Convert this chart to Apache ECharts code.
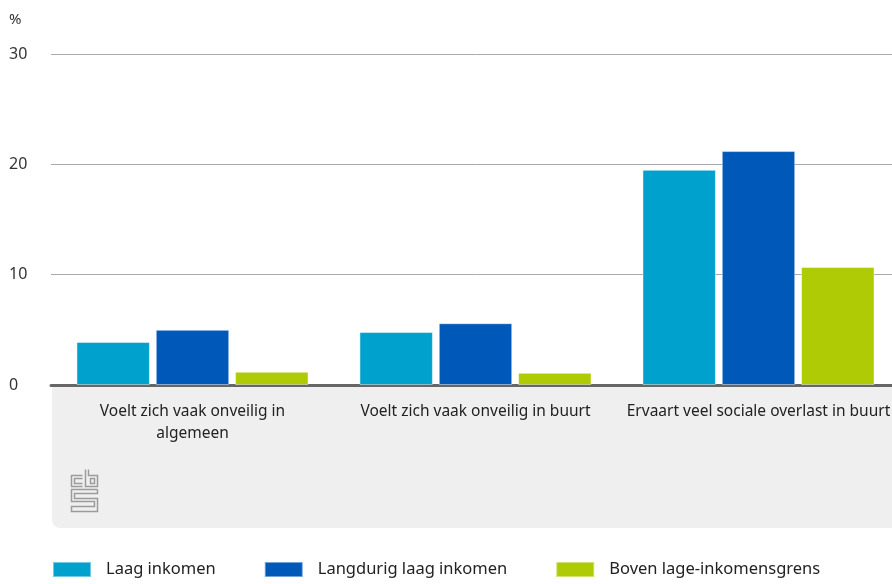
<!DOCTYPE html>
<html>
<head>
<meta charset="utf-8">
<script src="https://cdn.jsdelivr.net/npm/echarts@6/dist/echarts.min.js"></script>
<style>
  html, body { margin: 0; padding: 0; background: #fff; overflow: hidden; }
  /* iets breder dan het venster: de rechterkant van de plot valt weg, zoals in het origineel */
  #chart { width: 900px; height: 584px; }
</style>
</head>
<body>
<div id="chart"></div>
<script>
// categorieen en waarden (%)
var categories = ['Voelt zich vaak onveilig in\nalgemeen', 'Voelt zich vaak onveilig in buurt', 'Ervaart veel sociale overlast in buurt']
var laagInkomen = [3.9, 4.8, 19.5]
var langdurigLaag = [5.0, 5.6, 21.2]
var bovenGrens = [1.2, 1.1, 10.7]
var seriesNames = ['Laag inkomen', 'Langdurig laag inkomen', 'Boven lage-inkomensgrens']
var colors = ['#00a1cd', '#0058b8', '#afcb05']

var font = '"Noto Sans", "Open Sans", sans-serif'
var chart = echarts.init(document.getElementById('chart'))

function bar (name, data, color) {
  return {
    name: name,
    type: 'bar',
    data: data,
    barGap: '8%',
    barCategoryGap: '18%',
    itemStyle: {
      color: color,
      borderColor: 'rgba(255,255,255,0.45)',
      borderWidth: 1
    }
  }
}

// cbs logo, ruwe benadering
var logoStyle = { stroke: '#9b9b9b', lineWidth: 1.5, fill: null }
var logo = {
  type: 'group',
  left: 69,
  top: 467,
  children: [
    { type: 'polyline', shape: { points: [[12, 6], [1, 6], [1, 17], [12, 17]] }, style: logoStyle },
    { type: 'polyline', shape: { points: [[12, 9], [4, 9], [4, 14], [12, 14]] }, style: logoStyle },
    { type: 'polyline', shape: { points: [[15, 0], [15, 17], [27, 17], [27, 6], [18, 6], [18, 0]] }, style: logoStyle },
    { type: 'rect', shape: { x: 20, y: 9, width: 4, height: 5 }, style: logoStyle },
    { type: 'polyline', shape: { points: [[27, 20], [1, 20], [1, 32], [24, 32], [24, 37], [1, 37], [1, 42], [27, 42], [27, 29], [4, 29], [4, 24], [27, 24], [27, 20]] }, style: logoStyle }
  ]
}

var option = {
  animation: false,
  textStyle: { fontFamily: font },
  title: {
    text: '%',
    left: 9,
    top: 12,
    padding: 0,
    textStyle: { fontSize: 15, fontWeight: 'normal', color: '#333', fontFamily: font }
  },
  legend: {
    data: seriesNames,
    bottom: 1,
    left: 47,
    icon: 'rect',
    itemWidth: 38,
    itemHeight: 15,
    itemGap: 48,
    textStyle: { fontSize: 16.5, color: '#222', fontFamily: font, padding: [0, 0, 0, 10] }
  },
  graphic: [
    {
      type: 'rect',
      z: -10,
      left: 52,
      top: 386,
      shape: { width: 860, height: 142, r: [0, 0, 0, 8] },
      style: { fill: '#efefef' }
    },
    logo
  ],
  grid: {
    left: 51,
    right: 0,
    top: 54,
    bottom: 199
  },
  xAxis: {
    type: 'category',
    data: categories,
    axisLine: { lineStyle: { color: '#666', width: 3 } },
    axisTick: { show: false },
    axisLabel: {
      interval: 0,
      margin: 16,
      fontSize: 15.5,
      lineHeight: 22,
      color: '#222',
      fontFamily: font
    }
  },
  yAxis: {
    type: 'value',
    min: 0,
    max: 30,
    interval: 10,
    axisLine: { show: false },
    axisTick: { show: false },
    splitLine: { lineStyle: { color: '#aaa', width: 1 } },
    axisLabel: {
      align: 'left',
      margin: 42,
      fontSize: 16,
      color: '#333',
      fontFamily: font
    }
  },
  series: [
    bar(seriesNames[0], laagInkomen, colors[0]),
    bar(seriesNames[1], langdurigLaag, colors[1]),
    bar(seriesNames[2], bovenGrens, colors[2])
  ]
}

chart.setOption(option)
</script>
</body>
</html>
